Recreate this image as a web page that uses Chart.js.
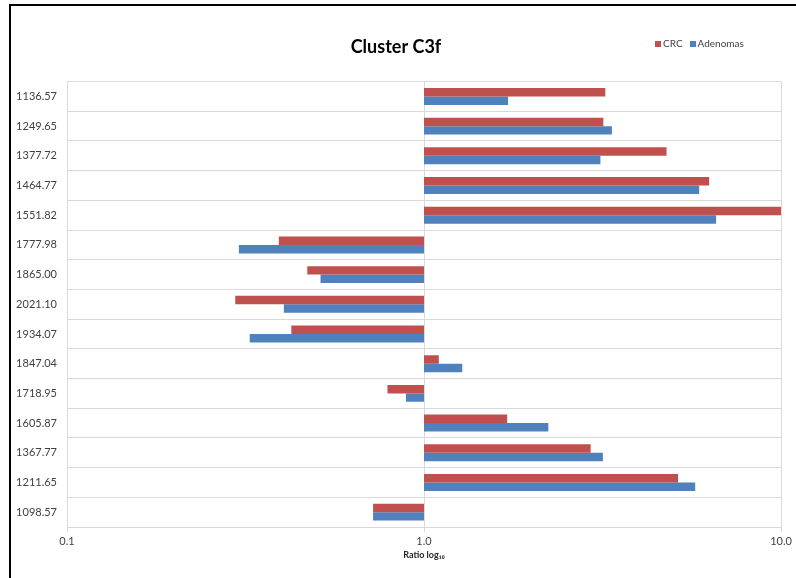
<!DOCTYPE html>
<html>
<head>
<meta charset="utf-8">
<script src="https://cdn.jsdelivr.net/npm/chart.js@4/dist/chart.umd.min.js"></script>
<style>
    html, body { margin: 0; padding: 0; background: #fff; }
    #wrap { position: relative; width: 796px; height: 578px; overflow: hidden; }
    #chart { position: absolute; left: 0; top: 0; }
    .frameL { position: absolute; left: 9px; top: 4px; width: 2px; height: 574px; background: #000; }
    .frameT { position: absolute; left: 9px; top: 4px; width: 787px; height: 2px; background: #000; }
    #legend { position: absolute; left: 655px; top: 37px; font: 10px Lato, "Noto Sans", sans-serif; color: #404040; display: flex; gap: 7px; }
    #legend span.box { display: inline-block; width: 6px; height: 6px; margin-right: 2px; vertical-align: 0px; }
</style>
</head>
<body>
<div id="wrap">
    <canvas id="chart" width="796" height="578"></canvas>
    <div class="frameL"></div>
    <div class="frameT"></div>
    <div id="legend"></div>
</div>
<script>
const categories = ['1136.57', '1249.65', '1377.72', '1464.77', '1551.82', '1777.98', '1865.00', '2021.10',
    '1934.07', '1847.04', '1718.95', '1605.87', '1367.77', '1211.65', '1098.57'];
const crcValues = [3.22, 3.18, 4.78, 6.29, 10.0, 0.392, 0.471, 0.296, 0.425, 1.10, 0.79, 1.71, 2.93, 5.15, 0.72];
const adenomaValues = [1.72, 3.36, 3.12, 5.90, 6.58, 0.303, 0.513, 0.405, 0.325, 1.28, 0.89, 2.23, 3.17, 5.75, 0.72];
const xTickValues = [0.1, 1, 10];
const xTickLabels = ['0.1', '1.0', '10.0'];

const seriesColors = { crc: '#C0504D', adenomas: '#4F81BD' };
const gridColor = '#D9D9D9';

// bars start at the ratio 1.0 line, like the Excel chart
const toFloating = arr => arr.map(v => [1, v]);

const ctx = document.getElementById('chart').getContext('2d');
const chart = new Chart(ctx, {
    type: 'bar',
    data: {
        labels: categories,
        datasets: [
            {
                label: 'CRC',
                data: toFloating(crcValues),
                backgroundColor: seriesColors.crc,
                borderWidth: 0,
                categoryPercentage: 0.57,
                barPercentage: 1.0,
            },
            {
                label: 'Adenomas',
                data: toFloating(adenomaValues),
                backgroundColor: seriesColors.adenomas,
                borderWidth: 0,
                categoryPercentage: 0.57,
                barPercentage: 1.0,
            },
        ],
    },
    options: {
        indexAxis: 'y',
        responsive: false,
        animation: false,
        layout: { padding: { left: 11, right: 15, top: 0, bottom: 0 } },
        scales: {
            x: {
                type: 'logarithmic',
                min: 0.1,
                max: 10,
                afterBuildTicks: scale => {
                    scale.ticks = xTickValues.map(v => ({ value: v }));
                },
                afterFit: scale => { scale.height = 51; },
                ticks: {
                    callback: (v, i) => xTickLabels[i],
                    color: '#404040',
                    font: { family: 'Lato, "Noto Sans", sans-serif', size: 11 },
                    padding: 3,
                    maxRotation: 0,
                    autoSkip: false,
                },
                grid: { color: gridColor, lineWidth: 1, tickLength: 5, drawTicks: true },
                border: { display: false },
                title: {
                    display: true,
                    text: 'Ratio log₁₀',
                    color: '#262626',
                    font: { family: 'Lato, "DejaVu Sans", sans-serif', size: 9, weight: 'bold' },
                    padding: { top: 0, bottom: 18 },
                },
            },
            y: {
                afterFit: scale => { scale.width = 56; },
                ticks: {
                    color: '#404040',
                    font: { family: 'Lato, "Noto Sans", sans-serif', size: 11 },
                    padding: 10,
                    crossAlign: 'near',
                },
                grid: { color: gridColor, lineWidth: 1, offset: true, drawTicks: false },
                border: { display: false },
            },
        },
        plugins: {
            legend: { display: false },
            tooltip: { enabled: false },
            title: {
                display: true,
                text: 'Cluster C3f',
                color: '#000',
                font: { family: 'Lato, "Noto Sans", sans-serif', size: 18, weight: 'bold' },
                padding: { top: 36, bottom: 24 },
            },
        },
    },
});

// small legend in the top right corner, built from the datasets
const legendEl = document.getElementById('legend');
chart.data.datasets.forEach(ds => {
    const item = document.createElement('div');
    item.innerHTML = '<span class="box" style="background:' + ds.backgroundColor + '"></span>' + ds.label;
    legendEl.appendChild(item);
});
</script>
</body>
</html>
